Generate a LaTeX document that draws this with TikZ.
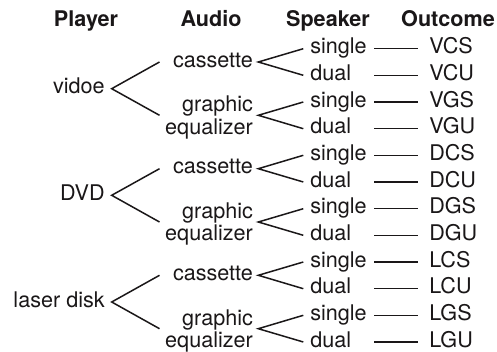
\documentclass[tikz,border=0pt]{standalone}
\usepackage{fontspec}
\setmainfont{TeX Gyre Heros}
\usetikzlibrary{positioning}
\definecolor{trInk}{HTML}{1A1718}
\tikzset{
  trtext/.style={font=\fontsize{10.8}{11.2}\selectfont, text=trInk},
  trlabel/.style={trtext, text height=1.5ex, text depth=.5ex},
  trhead/.style={trlabel, font=\fontsize{10.8}{11.2}\selectfont\bfseries},
  player/.style={trlabel, anchor=east, inner xsep=3.3pt},
  audio/.style={trtext, anchor=east, inner xsep=2.5pt, text width=44pt, align=right},
  audio2/.style={audio, text height=1em},
  speaker/.style={trlabel, anchor=west, inner xsep=3.3pt, text width=28.5pt, align=left},
  outcome/.style={trlabel, inner xsep=5.6pt},
  branch/.style={draw=trInk, line width=.75pt}
}
\begin{document}
\begin{tikzpicture}[x=0.5pt, y=-0.5pt, node distance=21.7pt]
  \useasboundingbox (0,0) rectangle (497,352);
  \node[trhead] (hPlayer) at (86,21.6) {Player};
  \node[trhead] (hAudio) at (211,21.6) {Audio};
  \node[trhead] (hSpeaker) at (328,21.6) {Speaker};
  \node[trhead] (hOutcome) at (448,21.6) {Outcome};

  \node[player] (vid) at (111.7,88.7) {vidoe};
  \node[player] (dvd) at (111.7,195.3) {DVD};
  \node[player] (ld) at (111.7,302.0) {laser disk};

  \node[audio, trlabel] (vC) at (258.3,62.0) {cassette};
  \node[audio2] (vG) at (258.3,115.3) {graphic\\equalizer};
  \node[audio, trlabel] (dC) at (258.3,168.7) {cassette};
  \node[audio2] (dG) at (258.3,222.0) {graphic\\equalizer};
  \node[audio, trlabel] (lC) at (258.3,275.3) {cassette};
  \node[audio2] (lG) at (258.3,328.7) {graphic\\equalizer};

  \node[speaker] (spVCS) at (303.3,48.7) {single};
  \node[speaker] (spVCU) at (303.3,75.3) {dual};
  \node[speaker] (spVGS) at (303.3,102.0) {single};
  \node[speaker] (spVGU) at (303.3,128.7) {dual};
  \node[speaker] (spDCS) at (303.3,155.3) {single};
  \node[speaker] (spDCU) at (303.3,182.0) {dual};
  \node[speaker] (spDGS) at (303.3,208.7) {single};
  \node[speaker] (spDGU) at (303.3,235.3) {dual};
  \node[speaker] (spLCS) at (303.3,262.0) {single};
  \node[speaker] (spLCU) at (303.3,288.7) {dual};
  \node[speaker] (spLGS) at (303.3,315.3) {single};
  \node[speaker] (spLGU) at (303.3,342.0) {dual};

  \node[outcome, right=of spVCS] (VCS) {VCS};
  \node[outcome, right=of spVCU] (VCU) {VCU};
  \node[outcome, right=of spVGS] (VGS) {VGS};
  \node[outcome, right=of spVGU] (VGU) {VGU};
  \node[outcome, right=of spDCS] (DCS) {DCS};
  \node[outcome, right=of spDCU] (DCU) {DCU};
  \node[outcome, right=of spDGS] (DGS) {DGS};
  \node[outcome, right=of spDGU] (DGU) {DGU};
  \node[outcome, right=of spLCS] (LCS) {LCS};
  \node[outcome, right=of spLCU] (LCU) {LCU};
  \node[outcome, right=of spLGS] (LGS) {LGS};
  \node[outcome, right=of spLGU] (LGU) {LGU};

  \draw[branch] (vC.west) -- (vid.east) -- (vG.west);
  \draw[branch] (dC.west) -- (dvd.east) -- (dG.west);
  \draw[branch] (lC.west) -- (ld.east) -- (lG.west);

  \draw[branch] (spVCS.west) -- (vC.east) -- (spVCU.west);
  \draw[branch] (spVGS.west) -- (vG.east) -- (spVGU.west);
  \draw[branch] (spDCS.west) -- (dC.east) -- (spDCU.west);
  \draw[branch] (spDGS.west) -- (dG.east) -- (spDGU.west);
  \draw[branch] (spLCS.west) -- (lC.east) -- (spLCU.west);
  \draw[branch] (spLGS.west) -- (lG.east) -- (spLGU.west);

  \draw[branch] (spVCS) -- (VCS);
  \draw[branch] (spVCU) -- (VCU);
  \draw[branch] (spVGS) -- (VGS);
  \draw[branch] (spVGU) -- (VGU);
  \draw[branch] (spDCS) -- (DCS);
  \draw[branch] (spDCU) -- (DCU);
  \draw[branch] (spDGS) -- (DGS);
  \draw[branch] (spDGU) -- (DGU);
  \draw[branch] (spLCS) -- (LCS);
  \draw[branch] (spLCU) -- (LCU);
  \draw[branch] (spLGS) -- (LGS);
  \draw[branch] (spLGU) -- (LGU);
\end{tikzpicture}
\end{document}
